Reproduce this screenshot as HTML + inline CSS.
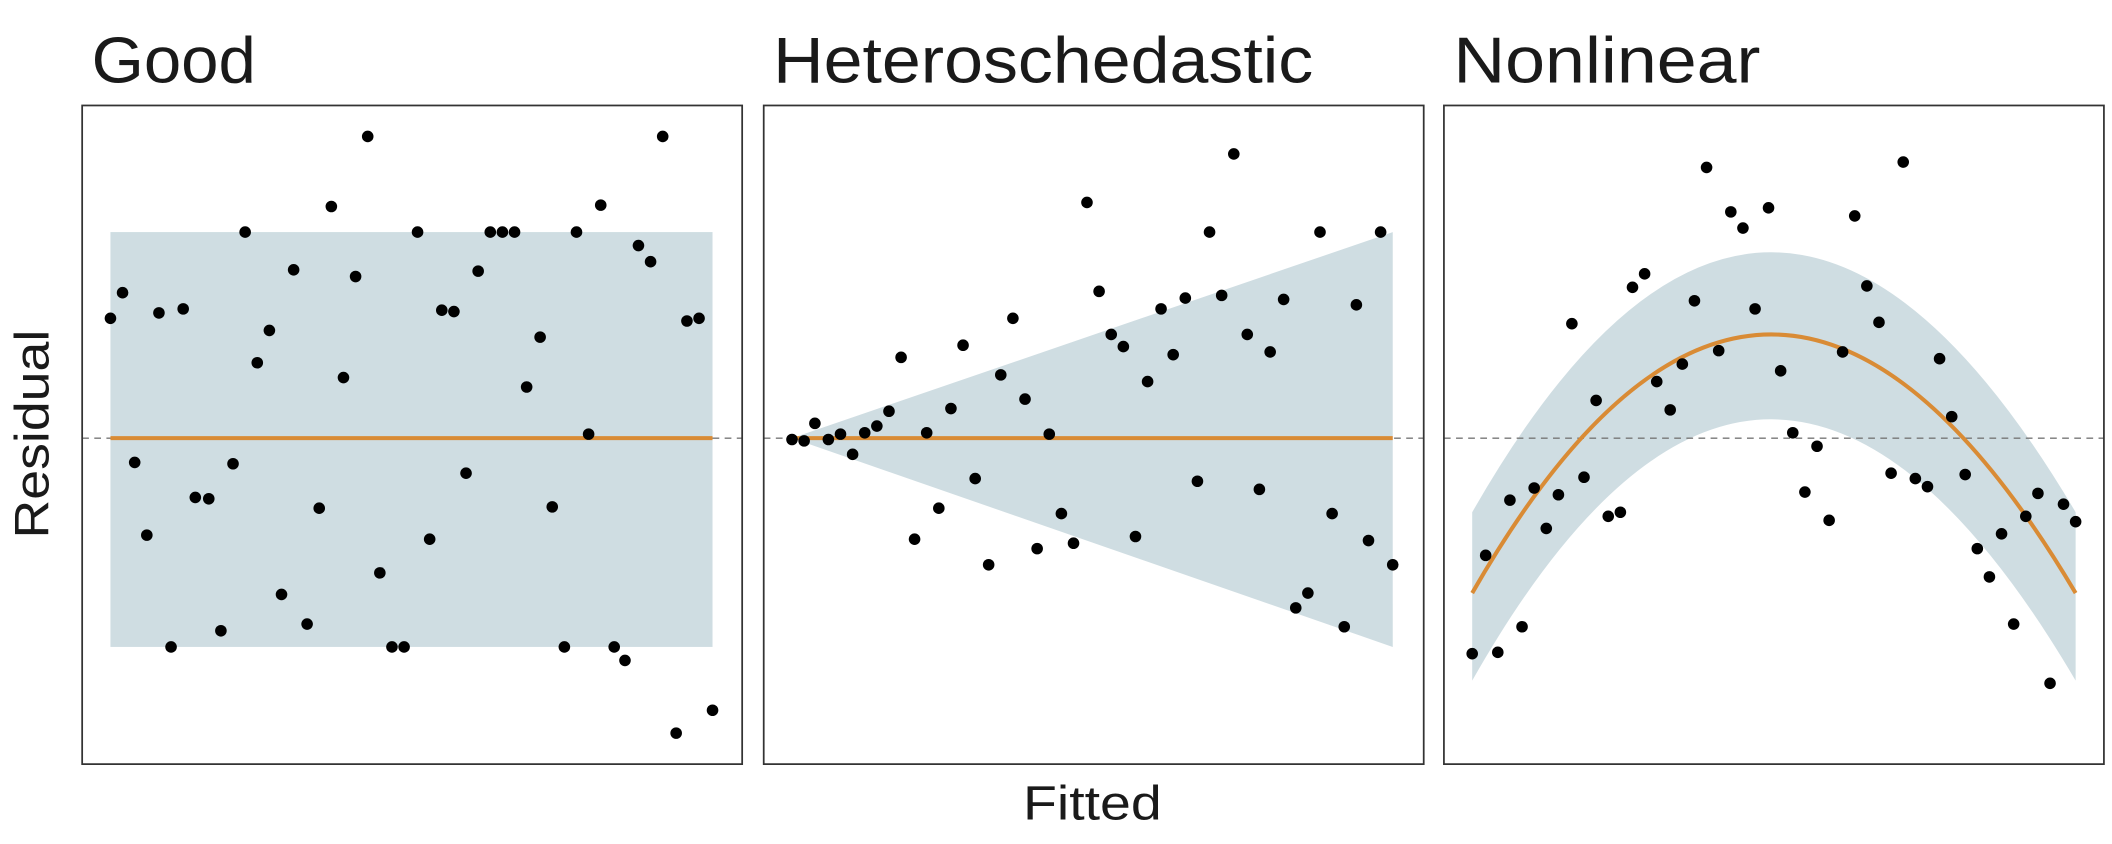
<!DOCTYPE html>
<html><head><meta charset="utf-8"><style>
html,body{margin:0;padding:0;background:#fff;}
svg{display:block;}
text{font-family:"Liberation Sans","DejaVu Sans",sans-serif;fill:#1a1a1a;}
</style></head><body>
<svg width="2112" height="844" viewBox="0 0 1568 626" xmlns="http://www.w3.org/2000/svg">
<text x="68" y="61" font-size="48" textLength="122" lengthAdjust="spacingAndGlyphs">Good</text>
<text x="574" y="61" font-size="48" textLength="401" lengthAdjust="spacingAndGlyphs">Heteroschedastic</text>
<text x="1079" y="61" font-size="48" textLength="228" lengthAdjust="spacingAndGlyphs">Nonlinear</text>
<text x="0" y="0" font-size="36" transform="translate(36,322) rotate(-90)" text-anchor="middle" textLength="155" lengthAdjust="spacingAndGlyphs">Residual</text>
<text x="811" y="608" font-size="36" text-anchor="middle" textLength="103" lengthAdjust="spacingAndGlyphs">Fitted</text>

<!-- Panel 1 -->
<rect x="82" y="172" width="447" height="308" fill="#cfdde2"/>
<line x1="61" y1="325" x2="551" y2="325" stroke="#777" stroke-width="1" stroke-dasharray="5,4"/>
<line x1="82" y1="325" x2="529" y2="325" stroke="#d98b35" stroke-width="3"/>
<g fill="#000">
<circle cx="82" cy="236" r="4.3"/><circle cx="91" cy="217" r="4.3"/><circle cx="100" cy="343" r="4.3"/><circle cx="109" cy="397" r="4.3"/><circle cx="118" cy="232" r="4.3"/><circle cx="127" cy="480" r="4.3"/><circle cx="136" cy="229" r="4.3"/><circle cx="145" cy="369" r="4.3"/><circle cx="155" cy="370" r="4.3"/><circle cx="164" cy="468" r="4.3"/><circle cx="173" cy="344" r="4.3"/><circle cx="182" cy="172" r="4.3"/><circle cx="191" cy="269" r="4.3"/><circle cx="200" cy="245" r="4.3"/><circle cx="209" cy="441" r="4.3"/><circle cx="218" cy="200" r="4.3"/><circle cx="228" cy="463" r="4.3"/><circle cx="237" cy="377" r="4.3"/><circle cx="246" cy="153" r="4.3"/><circle cx="255" cy="280" r="4.3"/><circle cx="264" cy="205" r="4.3"/><circle cx="273" cy="101" r="4.3"/><circle cx="282" cy="425" r="4.3"/><circle cx="291" cy="480" r="4.3"/><circle cx="300" cy="480" r="4.3"/><circle cx="310" cy="172" r="4.3"/><circle cx="319" cy="400" r="4.3"/><circle cx="328" cy="230" r="4.3"/><circle cx="337" cy="231" r="4.3"/><circle cx="346" cy="351" r="4.3"/><circle cx="355" cy="201" r="4.3"/><circle cx="364" cy="172" r="4.3"/><circle cx="373" cy="172" r="4.3"/><circle cx="382" cy="172" r="4.3"/><circle cx="391" cy="287" r="4.3"/><circle cx="401" cy="250" r="4.3"/><circle cx="410" cy="376" r="4.3"/><circle cx="419" cy="480" r="4.3"/><circle cx="428" cy="172" r="4.3"/><circle cx="437" cy="322" r="4.3"/><circle cx="446" cy="152" r="4.3"/><circle cx="456" cy="480" r="4.3"/><circle cx="464" cy="490" r="4.3"/><circle cx="474" cy="182" r="4.3"/><circle cx="483" cy="194" r="4.3"/><circle cx="492" cy="101" r="4.3"/><circle cx="502" cy="544" r="4.3"/><circle cx="510" cy="238" r="4.3"/><circle cx="519" cy="236" r="4.3"/><circle cx="529" cy="527" r="4.3"/>
</g>
<rect x="61" y="78" width="490" height="489" fill="none" stroke="#333" stroke-width="1.3"/>

<!-- Panel 2 -->
<polygon points="588,325 1034,172 1034,480" fill="#cfdde2"/>
<line x1="567" y1="325" x2="1057" y2="325" stroke="#777" stroke-width="1" stroke-dasharray="5,4"/>
<line x1="588" y1="325" x2="1034" y2="325" stroke="#d98b35" stroke-width="3"/>
<g fill="#000">
<circle cx="588" cy="326" r="4.3"/><circle cx="597" cy="327" r="4.3"/><circle cx="605" cy="314" r="4.3"/><circle cx="615" cy="326" r="4.3"/><circle cx="624" cy="322" r="4.3"/><circle cx="633" cy="337" r="4.3"/><circle cx="642" cy="321" r="4.3"/><circle cx="651" cy="316" r="4.3"/><circle cx="660" cy="305" r="4.3"/><circle cx="669" cy="265" r="4.3"/><circle cx="679" cy="400" r="4.3"/><circle cx="688" cy="321" r="4.3"/><circle cx="697" cy="377" r="4.3"/><circle cx="706" cy="303" r="4.3"/><circle cx="715" cy="256" r="4.3"/><circle cx="724" cy="355" r="4.3"/><circle cx="734" cy="419" r="4.3"/><circle cx="743" cy="278" r="4.3"/><circle cx="752" cy="236" r="4.3"/><circle cx="761" cy="296" r="4.3"/><circle cx="770" cy="407" r="4.3"/><circle cx="779" cy="322" r="4.3"/><circle cx="788" cy="381" r="4.3"/><circle cx="797" cy="403" r="4.3"/><circle cx="807" cy="150" r="4.3"/><circle cx="816" cy="216" r="4.3"/><circle cx="825" cy="248" r="4.3"/><circle cx="834" cy="257" r="4.3"/><circle cx="843" cy="398" r="4.3"/><circle cx="852" cy="283" r="4.3"/><circle cx="862" cy="229" r="4.3"/><circle cx="871" cy="263" r="4.3"/><circle cx="880" cy="221" r="4.3"/><circle cx="889" cy="357" r="4.3"/><circle cx="898" cy="172" r="4.3"/><circle cx="907" cy="219" r="4.3"/><circle cx="916" cy="114" r="4.3"/><circle cx="926" cy="248" r="4.3"/><circle cx="935" cy="363" r="4.3"/><circle cx="943" cy="261" r="4.3"/><circle cx="953" cy="222" r="4.3"/><circle cx="962" cy="451" r="4.3"/><circle cx="971" cy="440" r="4.3"/><circle cx="980" cy="172" r="4.3"/><circle cx="989" cy="381" r="4.3"/><circle cx="998" cy="465" r="4.3"/><circle cx="1007" cy="226" r="4.3"/><circle cx="1016" cy="401" r="4.3"/><circle cx="1025" cy="172" r="4.3"/><circle cx="1034" cy="419" r="4.3"/>
</g>
<rect x="567" y="78" width="490" height="489" fill="none" stroke="#333" stroke-width="1.3"/>

<!-- Panel 3 -->
<path d="M1093,380 Q1313,-6 1541,380 L1541,505 Q1313,117 1093,505 Z" fill="#cfdde2"/>
<line x1="1072" y1="325" x2="1562" y2="325" stroke="#777" stroke-width="1" stroke-dasharray="5,4"/>
<path d="M1093,440 Q1313,56 1541,440" fill="none" stroke="#d98b35" stroke-width="3"/>
<g fill="#000">
<circle cx="1093" cy="485" r="4.3"/><circle cx="1103" cy="412" r="4.3"/><circle cx="1112" cy="484" r="4.3"/><circle cx="1121" cy="371" r="4.3"/><circle cx="1130" cy="465" r="4.3"/><circle cx="1139" cy="362" r="4.3"/><circle cx="1148" cy="392" r="4.3"/><circle cx="1157" cy="367" r="4.3"/><circle cx="1167" cy="240" r="4.3"/><circle cx="1176" cy="354" r="4.3"/><circle cx="1185" cy="297" r="4.3"/><circle cx="1194" cy="383" r="4.3"/><circle cx="1203" cy="380" r="4.3"/><circle cx="1212" cy="213" r="4.3"/><circle cx="1221" cy="203" r="4.3"/><circle cx="1230" cy="283" r="4.3"/><circle cx="1240" cy="304" r="4.3"/><circle cx="1249" cy="270" r="4.3"/><circle cx="1258" cy="223" r="4.3"/><circle cx="1267" cy="124" r="4.3"/><circle cx="1276" cy="260" r="4.3"/><circle cx="1285" cy="157" r="4.3"/><circle cx="1294" cy="169" r="4.3"/><circle cx="1303" cy="229" r="4.3"/><circle cx="1313" cy="154" r="4.3"/><circle cx="1322" cy="275" r="4.3"/><circle cx="1331" cy="321" r="4.3"/><circle cx="1340" cy="365" r="4.3"/><circle cx="1349" cy="331" r="4.3"/><circle cx="1358" cy="386" r="4.3"/><circle cx="1368" cy="261" r="4.3"/><circle cx="1377" cy="160" r="4.3"/><circle cx="1386" cy="212" r="4.3"/><circle cx="1395" cy="239" r="4.3"/><circle cx="1404" cy="351" r="4.3"/><circle cx="1413" cy="120" r="4.3"/><circle cx="1422" cy="355" r="4.3"/><circle cx="1431" cy="361" r="4.3"/><circle cx="1440" cy="266" r="4.3"/><circle cx="1449" cy="309" r="4.3"/><circle cx="1459" cy="352" r="4.3"/><circle cx="1468" cy="407" r="4.3"/><circle cx="1477" cy="428" r="4.3"/><circle cx="1486" cy="396" r="4.3"/><circle cx="1495" cy="463" r="4.3"/><circle cx="1504" cy="383" r="4.3"/><circle cx="1513" cy="366" r="4.3"/><circle cx="1522" cy="507" r="4.3"/><circle cx="1532" cy="374" r="4.3"/><circle cx="1541" cy="387" r="4.3"/>
</g>
<rect x="1072" y="78" width="490" height="489" fill="none" stroke="#333" stroke-width="1.3"/>
</svg>
</body></html>
